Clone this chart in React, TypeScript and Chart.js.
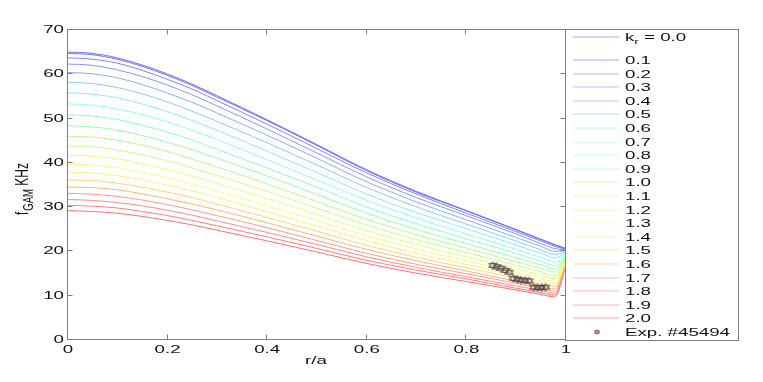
import React, { useEffect, useRef } from 'react';
import { Chart, registerables } from 'chart.js';

Chart.register(...registerables);

// ---------- data ----------
const rValues = [0, 0.05, 0.1, 0.15, 0.2, 0.25, 0.3, 0.4, 0.5, 0.6, 0.7, 0.8, 0.9, 0.95, 0.98, 1.0];

const kLabels = ['0.0', '0.1', '0.2', '0.3', '0.4', '0.5', '0.6', '0.7', '0.8', '0.9', '1.0',
  '1.1', '1.2', '1.3', '1.4', '1.5', '1.6', '1.7', '1.8', '1.9', '2.0'];

const fK00 = [64.8, 64.5, 63.5, 61.9, 59.9, 57.6, 55.0, 49.6, 44.0, 38.3, 33.4, 29.1, 24.8, 22.6, 21.3, 20.5];
const fK01 = [64.5, 64.2, 63.2, 61.6, 59.6, 57.3, 54.7, 49.4, 43.8, 38.1, 33.2, 29.0, 24.7, 22.5, 21.2, 20.4];
const fK02 = [63.5, 63.2, 62.3, 60.7, 58.7, 56.5, 53.9, 48.6, 43.1, 37.6, 32.8, 28.5, 24.3, 22.2, 20.9, 20.3];
const fK03 = [62.1, 61.8, 60.8, 59.3, 57.4, 55.2, 52.7, 47.5, 42.1, 36.7, 32.0, 27.9, 23.8, 21.6, 20.4, 20.1];
const fK04 = [60.2, 59.9, 59.0, 57.5, 55.6, 53.5, 51.1, 46.1, 40.9, 35.6, 31.0, 27.0, 23.0, 21.0, 19.8, 19.9];
const fK05 = [58.0, 57.7, 56.8, 55.4, 53.6, 51.5, 49.2, 44.4, 39.4, 34.3, 29.9, 26.0, 22.2, 20.2, 19.1, 19.6];
const fK06 = [55.6, 55.3, 54.5, 53.1, 51.4, 49.4, 47.2, 42.5, 37.7, 32.8, 28.6, 25.0, 21.3, 19.4, 18.3, 19.3];
const fK07 = [53.1, 52.8, 52.0, 50.7, 49.1, 47.2, 45.1, 40.6, 36.0, 31.4, 27.4, 23.8, 20.3, 18.5, 17.4, 19.0];
const fK08 = [50.6, 50.4, 49.6, 48.3, 46.8, 45.0, 42.9, 38.7, 34.4, 29.9, 26.1, 22.7, 19.4, 17.6, 16.6, 18.7];
const fK09 = [48.2, 47.9, 47.2, 46.0, 44.5, 42.8, 40.9, 36.9, 32.7, 28.5, 24.8, 21.6, 18.4, 16.8, 15.8, 18.4];
const fK10 = [45.8, 45.6, 44.9, 43.8, 42.4, 40.7, 38.9, 35.1, 31.1, 27.1, 23.6, 20.6, 17.5, 16.0, 15.1, 18.1];
const fK11 = [43.6, 43.4, 42.7, 41.6, 40.3, 38.7, 37.0, 33.4, 29.6, 25.8, 22.5, 19.6, 16.7, 15.2, 14.3, 17.8];
const fK12 = [41.5, 41.3, 40.7, 39.6, 38.3, 36.9, 35.2, 31.8, 28.2, 24.5, 21.4, 18.6, 15.9, 14.5, 13.6, 17.5];
const fK13 = [39.5, 39.3, 38.7, 37.7, 36.5, 35.1, 33.5, 30.2, 26.8, 23.4, 20.4, 17.7, 15.1, 13.8, 13.0, 17.3];
const fK14 = [37.7, 37.5, 36.9, 36.0, 34.8, 33.5, 32.0, 28.8, 25.6, 22.3, 19.4, 16.9, 14.4, 13.1, 12.4, 17.0];
const fK15 = [35.9, 35.8, 35.2, 34.3, 33.2, 32.0, 30.5, 27.5, 24.4, 21.2, 18.5, 16.1, 13.8, 12.5, 11.8, 16.8];
const fK16 = [34.3, 34.2, 33.7, 32.8, 31.7, 30.5, 29.2, 26.3, 23.3, 20.3, 17.7, 15.4, 13.1, 12.0, 11.3, 16.5];
const fK17 = [32.9, 32.7, 32.2, 31.4, 30.4, 29.2, 27.9, 25.2, 22.3, 19.4, 16.9, 14.8, 12.6, 11.5, 10.8, 16.3];
const fK18 = [31.5, 31.3, 30.8, 30.1, 29.1, 28.0, 26.7, 24.1, 21.4, 18.6, 16.2, 14.1, 12.0, 11.0, 10.3, 16.1];
const fK19 = [30.2, 30.0, 29.6, 28.8, 27.9, 26.8, 25.6, 23.1, 20.5, 17.8, 15.6, 13.6, 11.5, 10.5, 9.9, 15.9];
const fK20 = [29.0, 28.8, 28.4, 27.7, 26.8, 25.8, 24.6, 22.2, 19.7, 17.1, 14.9, 13.0, 11.1, 10.1, 9.5, 15.7];

const seriesValues = [fK00, fK01, fK02, fK03, fK04, fK05, fK06, fK07, fK08, fK09, fK10,
  fK11, fK12, fK13, fK14, fK15, fK16, fK17, fK18, fK19, fK20];

const expR = [0.855, 0.863, 0.871, 0.880, 0.888, 0.896, 0.904, 0.912, 0.920, 0.928, 0.937, 0.945, 0.953, 0.961];
const expF = [16.6, 16.3, 16.0, 15.5, 15.1, 13.7, 13.5, 13.3, 13.2, 13.1, 11.7, 11.6, 11.6, 11.7];
const expLabel = 'Exp. #45494';

const xTicks = [0, 0.2, 0.4, 0.6, 0.8, 1];
const xTickLabels = ['0', '0.2', '0.4', '0.6', '0.8', '1'];
const yTicks = [0, 10, 20, 30, 40, 50, 60, 70];
const yTickLabels = ['0', '10', '20', '30', '40', '50', '60', '70'];

// ---------- styles ----------
const lineColors = ['#6b6bff', '#7373ff', '#7b85ff', '#8198ff', '#86aeff', '#8ccaff', '#8ee8ff',
  '#8ffff0', '#8cffcc', '#98ffa8', '#b0ff90', '#c8ff84', '#e0ff80', '#f4ff7c', '#fff078',
  '#ffd478', '#ffb478', '#ff9a80', '#ff8a84', '#ff7c7c', '#ff6e6e'];

const FONT = '"Liberation Sans", Arial, Helvetica, sans-serif';
const SX = 1.7;
const AXIS_COLOR = '#7f7f7f';

function makeHexagram(w: number, h: number, color: string, lw: number) {
  const c = document.createElement('canvas');
  c.width = w;
  c.height = h;
  const g = c.getContext('2d')!;
  g.strokeStyle = color;
  g.lineWidth = lw;
  const cx = w / 2, cy = h / 2, rx = w / 2 - 0.7, ry = h / 2 - 0.7;
  const tri = (a0: number) => {
    g.beginPath();
    for (let i = 0; i < 3; i++) {
      const a = a0 + (i * 2 * Math.PI) / 3;
      const px = cx + rx * Math.cos(a), py = cy + ry * Math.sin(a);
      if (i === 0) g.moveTo(px, py); else g.lineTo(px, py);
    }
    g.closePath();
    g.stroke();
  };
  tri(-Math.PI / 2);
  tri(Math.PI / 2);
  return c;
}

function sText(ctx: CanvasRenderingContext2D, text: string, x: number, y: number,
  align: 'left' | 'right' | 'center', size: number, sx = SX) {
  ctx.save();
  ctx.font = `${size}px ${FONT}`;
  const w = ctx.measureText(text).width * sx;
  let x0 = x;
  if (align === 'right') x0 = x - w;
  else if (align === 'center') x0 = x - w / 2;
  ctx.translate(x0, y);
  ctx.scale(sx, 1);
  ctx.textAlign = 'left';
  ctx.textBaseline = 'alphabetic';
  ctx.fillStyle = '#111';
  ctx.fillText(text, 0, 0);
  ctx.restore();
  return w;
}

export default function App() {
  const ref = useRef<HTMLCanvasElement | null>(null);

  useEffect(() => {
    const canvas = ref.current;
    if (!canvas) return;
    const hexPlot = makeHexagram(11, 9, '#4a3838', 0.8);
    const hexLegend = makeHexagram(7, 6, '#8a4060', 0.9);

    const lineSets = seriesValues.map((vals, i) => ({
      label: kLabels[i],
      data: vals.map((v, j) => ({ x: rValues[j], y: v })),
      borderColor: lineColors[i],
      backgroundColor: lineColors[i],
      borderWidth: 1,
      pointRadius: 0,
      fill: false,
      cubicInterpolationMode: 'monotone' as const,
      order: 1,
    }));
    const expSet = {
      label: expLabel,
      data: expR.map((r, j) => ({ x: r, y: expF[j] })),
      showLine: false,
      pointStyle: hexPlot,
      pointRadius: 4,
      borderColor: '#4a3838',
      backgroundColor: 'transparent',
      order: 0,
    };

    const decor = {
      id: 'matlabDecor',
      afterDraw(chart: any) {
        const ctx: CanvasRenderingContext2D = chart.ctx;
        const a = chart.chartArea;
        const xs = chart.scales.x;
        const ys = chart.scales.y;
        ctx.save();
        // plot box
        ctx.strokeStyle = AXIS_COLOR;
        ctx.lineWidth = 1;
        const L = Math.round(a.left) + 0.5, R = Math.round(a.right) + 0.5;
        const T = Math.round(a.top) + 0.5, B = Math.round(a.bottom) + 0.5;
        ctx.strokeRect(L, T, R - L, B - T);
        // inward ticks
        ctx.beginPath();
        xTicks.forEach((v) => {
          const px = Math.round(xs.getPixelForValue(v)) + 0.5;
          ctx.moveTo(px, B); ctx.lineTo(px, B - 5);
          ctx.moveTo(px, T); ctx.lineTo(px, T + 5);
        });
        yTicks.forEach((v) => {
          const py = Math.round(ys.getPixelForValue(v)) + 0.5;
          ctx.moveTo(L, py); ctx.lineTo(L + 5, py);
          ctx.moveTo(R, py); ctx.lineTo(R - 5, py);
        });
        ctx.stroke();
        // tick labels
        xTicks.forEach((v, i) => {
          sText(ctx, xTickLabels[i], xs.getPixelForValue(v) + 1, 353, 'center', 11);
        });
        yTicks.forEach((v, i) => {
          sText(ctx, yTickLabels[i], 64, ys.getPixelForValue(v) + 4, 'right', 11);
        });
        // x title
        sText(ctx, 'r/a', (a.left + a.right) / 2, 364, 'center', 11);
        // y title (rotated, with subscript)
        ctx.save();
        ctx.translate(28, 219);
        ctx.rotate(-Math.PI / 2);
        ctx.scale(1, 1.6);
        ctx.fillStyle = '#111';
        ctx.textBaseline = 'alphabetic';
        ctx.textAlign = 'left';
        ctx.font = `12px ${FONT}`;
        ctx.fillText('f', 4, 0);
        const wf = ctx.measureText('f').width;
        ctx.font = `9.5px ${FONT}`;
        ctx.fillText('GAM', 4 + wf + 1, 3);
        const wg = ctx.measureText('GAM').width;
        ctx.font = `12px ${FONT}`;
        ctx.fillText(' KHz', 4 + wf + 1 + wg, 0);
        ctx.restore();

        // legend box
        const lx0 = Math.round(a.right) + 0.5, lx1 = 738.5, ly0 = T, ly1 = 340.5;
        ctx.strokeStyle = AXIS_COLOR;
        ctx.strokeRect(lx0, ly0, lx1 - lx0, ly1 - ly0);
        const rowY = (i: number) => (i === 0 ? 36.7 : 60 + (i - 1) * 13.6);
        chart.data.datasets.forEach((ds: any, i: number) => {
          const cy = rowY(i);
          if (ds.showLine === false) {
            ctx.drawImage(hexLegend, 597 - hexLegend.width / 2, Math.round(cy) - hexLegend.height / 2);
            sText(ctx, ds.label, 625, cy + 4, 'left', 11);
            return;
          }
          ctx.save();
          ctx.globalAlpha = 0.6;
          ctx.strokeStyle = ds.borderColor;
          ctx.lineWidth = 1;
          ctx.beginPath();
          ctx.moveTo(573, Math.round(cy));
          ctx.lineTo(619, Math.round(cy));
          ctx.stroke();
          ctx.restore();
          if (i === 0) {
            let xx = 625;
            xx += sText(ctx, 'k', xx, cy + 4, 'left', 11);
            xx += sText(ctx, 'r', xx, cy + 7, 'left', 8);
            sText(ctx, ' = ' + ds.label, xx, cy + 4, 'left', 11);
          } else {
            sText(ctx, ds.label, 625, cy + 4, 'left', 11);
          }
        });
        ctx.restore();
      },
    };

    const chart = new Chart(canvas, {
      type: 'line',
      data: { datasets: [...lineSets, expSet] as any },
      options: {
        responsive: false,
        animation: false,
        devicePixelRatio: 1,
        parsing: false as any,
        layout: { padding: { top: 29, right: 198, left: 0, bottom: 0 } },
        plugins: { legend: { display: false }, tooltip: { enabled: false } },
        scales: {
          x: {
            type: 'linear',
            min: 0,
            max: 1,
            ticks: { display: false, stepSize: 0.2 },
            grid: { display: false },
            border: { display: false },
            afterFit: (s: any) => { s.height = 43; },
          },
          y: {
            type: 'linear',
            min: 0,
            max: 70,
            ticks: { display: false, stepSize: 10 },
            grid: { display: false },
            border: { display: false },
            afterFit: (s: any) => { s.width = 67; },
          },
        },
      },
      plugins: [decor],
    });
    return () => chart.destroy();
  }, []);

  return (
    <div style={{ position: 'fixed', left: 0, top: 0, width: 763, height: 382, background: '#fff' }}>
      <canvas ref={ref} width={763} height={382} style={{ display: 'block' }} />
    </div>
  );
}
